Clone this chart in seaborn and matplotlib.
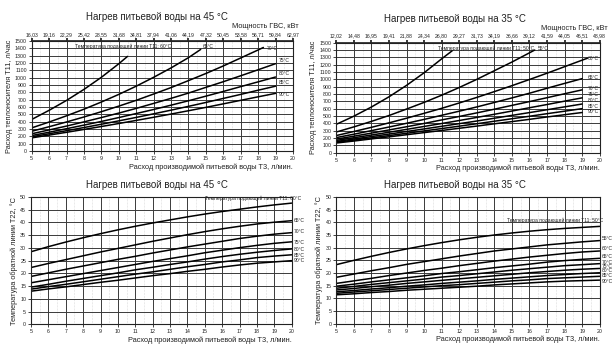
import matplotlib
matplotlib.use('Agg')
import matplotlib.pyplot as plt
import pandas as pd
import seaborn as sns
from matplotlib.ticker import MultipleLocator

# x axis: flow of produced drinking water T3, l/min
x_ticks = list(range(5, 21))
x_to_19 = list(range(5, 20))
x_to_20 = list(range(5, 21))

# DHW power (top axis) for the two heating cases
kw_45 = ['16,03', '19,16', '22,29', '25,42', '28,55', '31,68', '34,81', '37,94',
         '41,06', '44,19', '47,32', '50,45', '53,58', '56,71', '59,84', '62,97']
kw_35 = ['12,02', '14,48', '16,95', '19,41', '21,88', '24,34', '26,80', '29,27',
         '31,73', '34,19', '36,66', '39,12', '41,59', '44,05', '46,51', '48,98']

# heating medium flow T11, l/h  -- heating by 45 °C
flow45_t11 = ['60', '65', '70', '75', '80', '85', '90']
flow45_x = {
    '60': [5, 6, 7, 8, 9, 10, 10.5],
    '65': [5, 6, 7, 8, 9, 10, 11, 12, 13, 14, 14.7],
    '70': [5, 6, 7, 8, 9, 10, 11, 12, 13, 14, 15, 16, 17, 18, 18.3],
    '75': x_to_19, '80': x_to_19, '85': x_to_19, '90': x_to_19,
}
flow45_y = {
    '60': [430, 555, 690, 840, 1005, 1190, 1290],
    '65': [315, 395, 480, 570, 668, 772, 884, 1005, 1133, 1273, 1385],
    '70': [269, 331, 396, 464, 536, 612, 691, 777, 865, 960, 1057, 1160, 1269, 1378, 1412],
    '75': [235, 287, 340, 397, 456, 517, 581, 649, 718, 790, 868, 945, 1026, 1108, 1191],
    '80': [211, 256, 304, 353, 403, 456, 511, 566, 625, 685, 748, 812, 878, 943, 1009],
    '85': [194, 235, 277, 320, 365, 411, 458, 507, 557, 609, 662, 717, 772, 829, 884],
    '90': [179, 217, 255, 294, 334, 375, 417, 460, 504, 549, 595, 643, 691, 739, 786],
}

# heating medium flow T11, l/h  -- heating by 35 °C
flow35_t11 = ['50', '55', '60', '65', '70', '75', '80', '85', '90']
flow35_x = {
    '50': [5, 6, 7, 8, 9, 10, 11, 11.6],
    '55': [5, 6, 7, 8, 9, 10, 11, 12, 13, 14, 15, 16, 16.3],
    '60': [5, 6, 7, 8, 9, 10, 11, 12, 13, 14, 15, 16, 17, 18, 19, 19.3],
    '65': x_to_19, '70': x_to_19, '75': x_to_19, '80': x_to_19,
    '85': x_to_19, '90': x_to_19,
}
flow35_y = {
    '50': [387, 498, 623, 762, 918, 1090, 1280, 1390],
    '55': [282, 352, 427, 507, 595, 686, 784, 889, 1000, 1118, 1236, 1362, 1400],
    '60': [234, 289, 346, 407, 470, 537, 605, 678, 754, 833, 914, 998, 1084, 1173, 1262, 1288],
    '65': [206, 252, 301, 350, 401, 454, 510, 566, 624, 685, 747, 811, 879, 945, 1010],
    '70': [185, 225, 267, 310, 354, 399, 447, 494, 543, 593, 645, 697, 750, 804, 857],
    '75': [168, 204, 241, 279, 318, 358, 398, 439, 481, 524, 568, 613, 657, 703, 748],
    '80': [153, 186, 220, 254, 289, 324, 360, 396, 432, 470, 509, 547, 586, 625, 664],
    '85': [142, 172, 202, 233, 265, 297, 329, 362, 395, 429, 463, 497, 532, 566, 601],
    '90': [132, 159, 188, 216, 245, 274, 303, 333, 363, 394, 424, 455, 487, 518, 548],
}

# return temperature T22, °C -- heating by 45 °C
ret45_y = {
    '60': [28.5, 30.5, 32.3, 34.0, 35.6, 37.1, 38.5, 39.8, 41.0, 42.2, 43.3, 44.3, 45.2, 46.1, 46.9, 47.6],
    '65': [22.3, 23.9, 25.4, 26.9, 28.4, 29.8, 31.2, 32.6, 33.9, 35.2, 36.4, 37.5, 38.5, 39.4, 40.1, 40.7],
    '70': [18.8, 20.2, 21.6, 22.9, 24.2, 25.5, 26.7, 28.0, 29.2, 30.4, 31.5, 32.6, 33.7, 34.6, 35.4, 36.0],
    '75': [16.3, 17.5, 18.7, 19.9, 21.1, 22.3, 23.5, 24.7, 25.8, 26.9, 28.1, 29.1, 30.1, 31.0, 31.8, 32.4],
    '80': [14.6, 15.7, 16.9, 18.0, 19.1, 20.2, 21.4, 22.4, 23.5, 24.5, 25.6, 26.6, 27.5, 28.3, 29.0, 29.6],
    '85': [13.8, 14.8, 15.7, 16.7, 17.7, 18.7, 19.7, 20.6, 21.6, 22.6, 23.5, 24.5, 25.3, 26.2, 26.8, 27.3],
    '90': [13.0, 13.9, 14.7, 15.6, 16.5, 17.3, 18.2, 19.1, 19.9, 20.8, 21.6, 22.5, 23.3, 24.0, 24.5, 25.0],
}

# return temperature T22, °C -- heating by 35 °C
ret35_y = {
    '50': [23.3, 25.0, 26.6, 28.1, 29.5, 30.8, 32.0, 33.1, 34.1, 35.0, 35.8, 36.5, 37.1, 37.6, 38.0, 38.4],
    '55': [18.3, 19.6, 20.9, 22.1, 23.4, 24.5, 25.6, 26.7, 27.7, 28.7, 29.5, 30.3, 31.1, 31.7, 32.3, 32.8],
    '60': [15.9, 16.9, 17.9, 19.0, 20.0, 21.0, 21.9, 22.9, 23.8, 24.7, 25.5, 26.3, 27.0, 27.7, 28.3, 28.7],
    '65': [14.8, 15.6, 16.5, 17.3, 18.1, 18.9, 19.8, 20.5, 21.3, 22.1, 22.8, 23.5, 24.3, 24.9, 25.4, 25.8],
    '70': [14.0, 14.7, 15.5, 16.2, 16.9, 17.6, 18.4, 19.0, 19.7, 20.4, 21.1, 21.7, 22.3, 22.9, 23.3, 23.7],
    '75': [13.3, 13.9, 14.6, 15.2, 15.9, 16.5, 17.1, 17.7, 18.3, 18.9, 19.5, 20.1, 20.6, 21.1, 21.5, 21.8],
    '80': [12.6, 13.1, 13.7, 14.2, 14.8, 15.3, 15.9, 16.4, 16.9, 17.5, 18.0, 18.5, 19.0, 19.4, 19.8, 20.1],
    '85': [12.0, 12.5, 13.0, 13.5, 14.0, 14.5, 15.0, 15.4, 15.9, 16.4, 16.9, 17.3, 17.8, 18.1, 18.4, 18.7],
    '90': [11.4, 11.8, 12.3, 12.7, 13.2, 13.6, 14.0, 14.4, 14.8, 15.3, 15.7, 16.1, 16.5, 16.8, 17.0, 17.2],
}

title_45 = 'Нагрев питьевой воды на 45 °C'
title_35 = 'Нагрев питьевой воды на 35 °C'
xlabel = 'Расход производимой питьевой воды T3, л/мин.'
ylabel_flow = 'Расход теплоносителя T11, л/час'
ylabel_ret = 'Температура обратной линии T22, °C'
power_label = 'Мощность ГВС, кВт'
supply_label = 'Температура подающей линии T11: {}°C'

# label anchor positions (x, y) in data units
lab_flow45 = {'60': (7.5, 1420), '65': (14.8, 1420), '70': (18.5, 1400), '75': (19.2, 1240),
              '80': (19.2, 1056), '85': (19.2, 928), '90': (19.2, 768)}
lab_flow35 = {'50': (10.8, 1423), '55': (16.5, 1423), '60': (19.3, 1286), '65': (19.3, 1023),
              '70': (19.3, 877), '75': (19.3, 800), '80': (19.3, 709), '85': (19.3, 636),
              '90': (19.3, 559)}
lab_ret45 = {'60': (15.0, 49.4), '65': (20.1, 40.8), '70': (20.1, 36.3), '75': (20.1, 32.3),
             '80': (20.1, 29.5), '85': (20.1, 27.1), '90': (20.1, 24.9)}
lab_ret35 = {'50': (14.7, 40.6), '55': (20.1, 33.5), '60': (20.1, 29.8), '65': (20.1, 26.5),
             '70': (20.1, 24.2), '75': (20.1, 22.4), '80': (20.1, 20.8), '85': (20.1, 19.2),
             '90': (20.1, 16.8)}

sns.set_theme(style='white')
plt.rcParams['font.family'] = ['Liberation Sans', 'DejaVu Sans']

W, H = 613, 354
fig = plt.figure(figsize=(W / 100, H / 100), dpi=100)


def px_axes(left, top, right, bottom):
    return fig.add_axes([left / W, 1 - bottom / H, (right - left) / W, (bottom - top) / H])


def to_frame(order, xs, ys):
    rows = []
    for k in order:
        x = xs[k] if isinstance(xs, dict) else xs
        for xi, yi in zip(x, ys[k]):
            rows.append({'T3': xi, 'val': yi, 'T11': k})
    return pd.DataFrame(rows)


def draw(ax, df, order, ymax, ystep, labels, first_fmt, ylabel):
    sns.lineplot(data=df, x='T3', y='val', hue='T11', hue_order=order,
                 palette={k: 'black' for k in order}, legend=False,
                 linewidth=1.1, ax=ax)
    ax.set_xlim(5, 20)
    ax.set_ylim(0, ymax)
    ax.set_xticks(x_ticks)
    ax.yaxis.set_major_locator(MultipleLocator(ystep))
    ax.xaxis.set_minor_locator(MultipleLocator(0.5))
    ax.grid(True, which='major', color='#3a3a3a', linewidth=0.7)
    ax.grid(True, which='minor', axis='x', color='#bdbdbd', linewidth=0.4, linestyle=':')
    ax.set_axisbelow(True)
    ax.tick_params(axis='both', which='major', labelsize=3.8, length=2, width=0.6,
                   pad=1.5, colors='#222', bottom=True, left=True)
    for s in ax.spines.values():
        s.set_color('#222')
        s.set_linewidth(0.8)
    ax.set_xlabel(xlabel, fontsize=5.3, loc='right', labelpad=1.5, color='#222')
    ax.set_ylabel(ylabel, fontsize=5.3, labelpad=1.5, color='#222')
    for k in order:
        lx, ly = labels[k]
        txt = first_fmt.format(k) if k == order[0] else k + '°C'
        ax.text(lx, ly, txt, fontsize=3.6, va='center', ha='left', color='#222',
                clip_on=False)


# top-left: flow, 45 °C
ax1 = px_axes(31.7, 41, 293, 151)
draw(ax1, to_frame(flow45_t11, flow45_x, flow45_y), flow45_t11, 1500, 100,
     lab_flow45, supply_label, ylabel_flow)
sec1 = ax1.secondary_xaxis('top')
sec1.set_xticks(x_ticks, labels=kw_45)
sec1.tick_params(labelsize=3.7, length=2, pad=1, colors='#222')

# top-right: flow, 35 °C
ax2 = px_axes(336.3, 42.7, 599.7, 152.7)
draw(ax2, to_frame(flow35_t11, flow35_x, flow35_y), flow35_t11, 1500, 100,
     lab_flow35, supply_label, ylabel_flow)
sec2 = ax2.secondary_xaxis('top')
sec2.set_xticks(x_ticks, labels=kw_35)
sec2.tick_params(labelsize=3.7, length=2, pad=1, colors='#222')

# bottom-left: return temperature, 45 °C
ax3 = px_axes(31, 197, 291.7, 324.3)
draw(ax3, to_frame(flow45_t11, x_to_20, ret45_y), flow45_t11, 50, 5,
     lab_ret45, supply_label, ylabel_ret)

# bottom-right: return temperature, 35 °C
ax4 = px_axes(336.3, 197, 599.7, 323.7)
draw(ax4, to_frame(flow35_t11, x_to_20, ret35_y), flow35_t11, 50, 5,
     lab_ret35, supply_label, ylabel_ret)

# titles and power captions
fig.text(157 / W, 1 - 17 / H, title_45, fontsize=7, ha='center', va='center', color='#222')
fig.text(455 / W, 1 - 19 / H, title_35, fontsize=7, ha='center', va='center', color='#222')
fig.text(157 / W, 1 - 185 / H, title_45, fontsize=7, ha='center', va='center', color='#222')
fig.text(455 / W, 1 - 185 / H, title_35, fontsize=7, ha='center', va='center', color='#222')
fig.text(299 / W, 1 - 26 / H, power_label, fontsize=5.3, ha='right', va='center', color='#222')
fig.text(608 / W, 1 - 28 / H, power_label, fontsize=5.3, ha='right', va='center', color='#222')

fig.savefig('out.png', dpi=100, facecolor='white')
